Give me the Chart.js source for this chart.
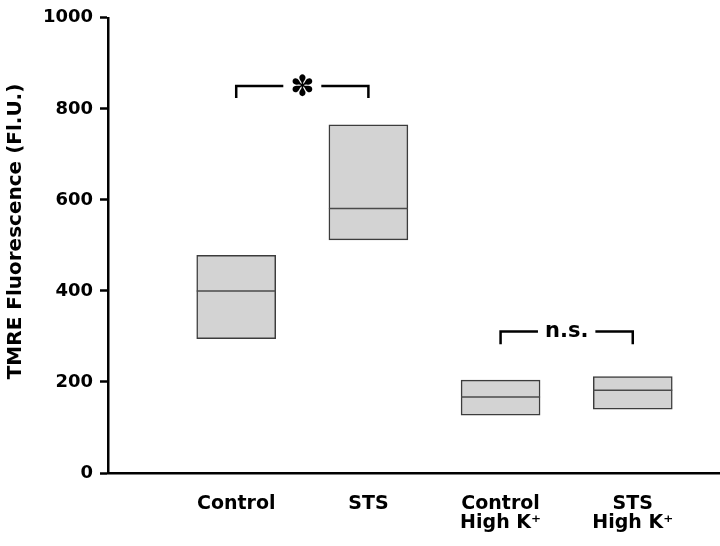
<!DOCTYPE html>
<html>
<head>
<meta charset="utf-8">
<script src="https://cdn.jsdelivr.net/npm/chart.js@4/dist/chart.umd.min.js"></script>
<style>
  html, body { margin: 0; padding: 0; background: #ffffff; }
  #wrap { width: 720px; height: 546px; position: relative; }
</style>
</head>
<body>
<div id="wrap"><canvas id="c" width="720" height="546"></canvas></div>
<script>
// ---- data ----
const categories = [['Control'], ['STS'], ['Control', 'High K\u207A'], ['STS', 'High K\u207A']];
const boxLow    = [295, 512, 127, 140];
const boxHigh   = [478, 765, 204, 212];
const medians   = [400, 581, 167, 182];
const yTickValues = [0, 200, 400, 600, 800, 1000];
const bracketFrom   = [0, 2];
const bracketTo     = [1, 3];
const bracketLabels = ['\u273D', 'n.s.'];
const bracketTop    = [850, 311];
const bracketBottom = [824, 283];

const FONT = "'DejaVu Sans', sans-serif";

const boxData = categories.map((c, i) => ({ x: i + 1, y: [boxLow[i], boxHigh[i]] }));

const annotatePlugin = {
  id: 'annotate',
  afterDatasetsDraw(chart) {
    const ctx = chart.ctx;
    const xs = chart.scales.x, ys = chart.scales.y;
    const meta = chart.getDatasetMeta(0);
    ctx.save();
    // medians
    ctx.strokeStyle = '#4a4a4a';
    ctx.lineWidth = 1.5;
    meta.data.forEach((el, i) => {
      const y = ys.getPixelForValue(medians[i]);
      ctx.beginPath();
      ctx.moveTo(el.x - el.width / 2, y);
      ctx.lineTo(el.x + el.width / 2, y);
      ctx.stroke();
    });
    // brackets
    ctx.strokeStyle = '#000000';
    ctx.fillStyle = '#000000';
    ctx.lineWidth = 2.5;
    bracketLabels.forEach((lab, k) => {
      const x1 = xs.getPixelForValue(bracketFrom[k] + 1);
      const x2 = xs.getPixelForValue(bracketTo[k] + 1);
      const yt = ys.getPixelForValue(bracketTop[k]);
      const yb = ys.getPixelForValue(bracketBottom[k]);
      const xm = (x1 + x2) / 2;
      const isStar = k === 0;
      ctx.font = isStar ? "bold 29px " + FONT : "bold 21px " + FONT;
      const w = ctx.measureText(lab).width;
      const gap = isStar ? 19 : w / 2 + 7;
      ctx.beginPath();
      ctx.moveTo(x1, yb); ctx.lineTo(x1, yt); ctx.lineTo(xm - gap, yt);
      ctx.moveTo(xm + gap, yt); ctx.lineTo(x2, yt); ctx.lineTo(x2, yb);
      ctx.stroke();
      ctx.textAlign = 'center';
      if (isStar) {
        ctx.textBaseline = 'middle';
        ctx.fillText(lab, xm, yt + 2);
      } else {
        ctx.textBaseline = 'alphabetic';
        ctx.fillText(lab, xm, yt + 6);
      }
    });
    ctx.restore();
  }
};

new Chart(document.getElementById('c'), {
  type: 'bar',
  data: {
    datasets: [{
      data: boxData,
      backgroundColor: '#d3d3d3',
      borderColor: '#3c3c3c',
      borderWidth: 1.5,
      borderSkipped: false,
      barThickness: 79
    }]
  },
  options: {
    responsive: false,
    animation: false,
    events: [],
    layout: { padding: { top: 15, right: 0, left: 0, bottom: 0 } },
    plugins: { legend: { display: false }, tooltip: { enabled: false } },
    scales: {
      x: {
        type: 'linear',
        offset: false,
        bounds: 'ticks',
        min: 0.03,
        max: 4.66,
        afterFit(s) { s.height = 73; },
        afterBuildTicks(s) { s.ticks = categories.map((c, i) => ({ value: i + 1 })); },
        grid: { display: false, drawTicks: false, offset: false },
        border: { display: true, color: '#000000', width: 2.5 },
        ticks: {
          autoSkip: false,
          maxRotation: 0,
          padding: 22,
          color: '#000000',
          font: { family: FONT, size: 19, weight: 'bold', lineHeight: 1.0 },
          callback: (v) => categories[Math.round(v) - 1]
        }
      },
      y: {
        min: 0,
        max: 1000,
        afterFit(s) { s.width = 108; },
        afterBuildTicks(s) { s.ticks = yTickValues.map(v => ({ value: v })); },
        grid: { display: true, drawOnChartArea: false, drawTicks: true, tickLength: 8, tickWidth: 2.5, tickColor: '#000000' },
        border: { display: true, color: '#000000', width: 2.5 },
        ticks: {
          padding: 7,
          color: '#000000',
          font: { family: FONT, size: 18, weight: 'bold' },
          callback: (v) => String(v)
        },
        title: {
          display: true,
          text: '    TMRE Fluorescence (Fl.U.)',
          color: '#000000',
          padding: { top: 4, bottom: 4 },
          font: { family: FONT, size: 20, weight: 'bold' }
        }
      }
    }
  },
  plugins: [annotatePlugin]
});
</script>
</body>
</html>
